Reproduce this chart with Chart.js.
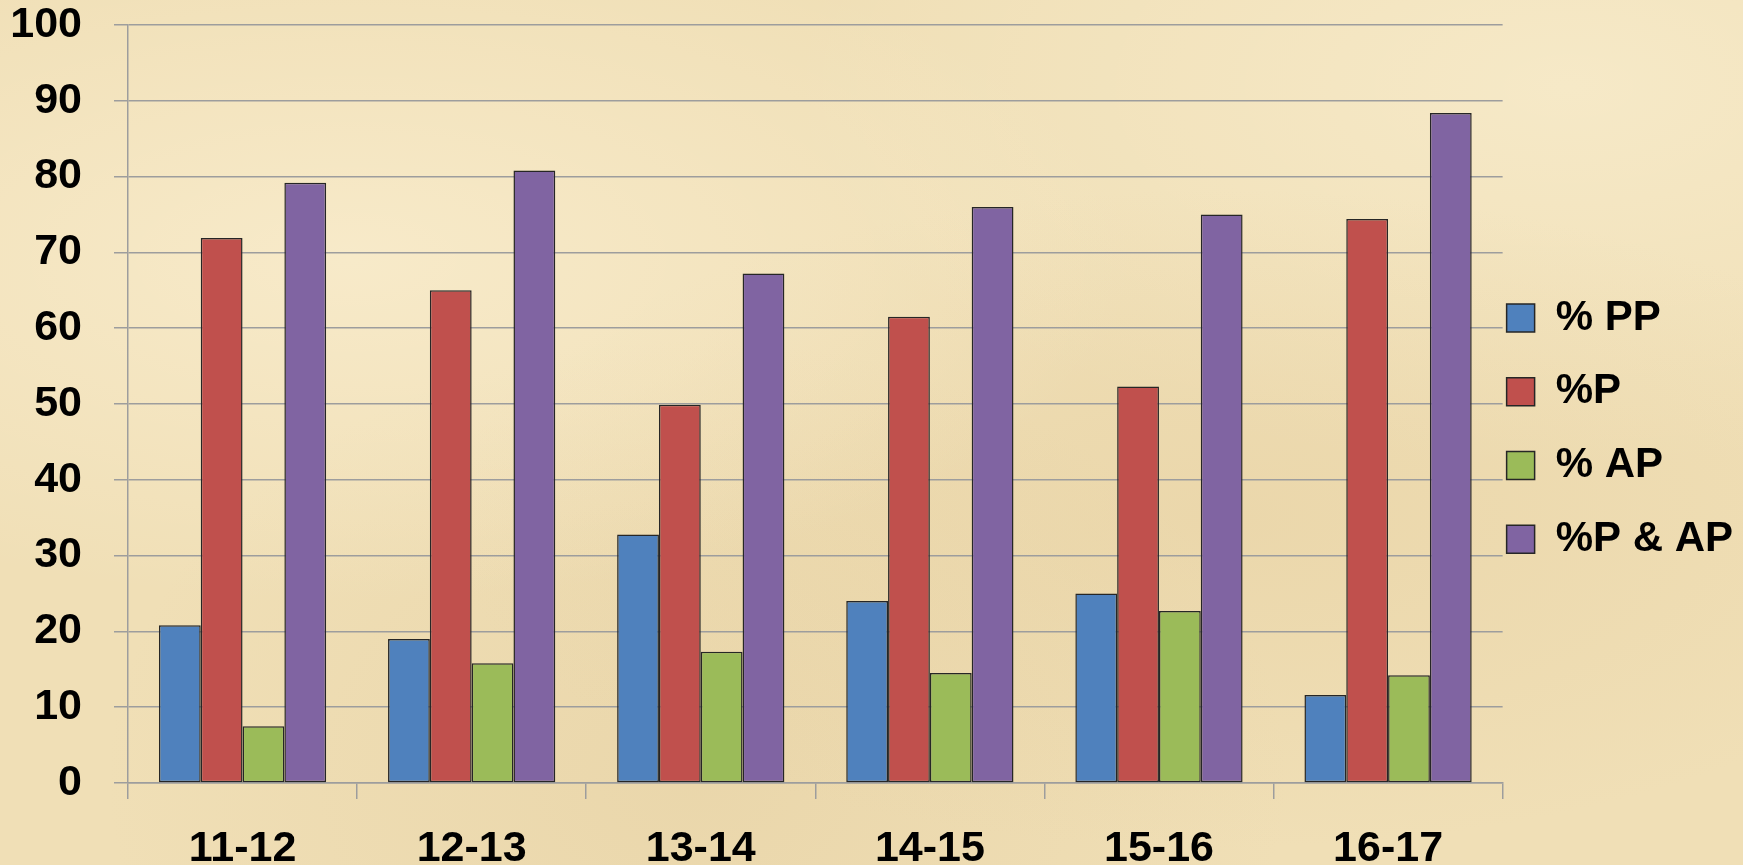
<!DOCTYPE html>
<html>
<head>
<meta charset="utf-8">
<script src="https://cdn.jsdelivr.net/npm/chart.js@4"></script>
<style>
  html, body { margin: 0; padding: 0; }
  body {
    width: 1743px; height: 865px; overflow: hidden;
    background-color: #f0dfb6;
    background-image:
      radial-gradient(ellipse at 20% 30%, rgba(255,245,220,0.5), rgba(255,245,220,0) 40%),
      radial-gradient(ellipse at 70% 60%, rgba(225,200,150,0.35), rgba(225,200,150,0) 45%),
      radial-gradient(ellipse at 90% 10%, rgba(255,248,225,0.4), rgba(255,248,225,0) 35%),
      radial-gradient(ellipse at 40% 90%, rgba(220,195,145,0.3), rgba(220,195,145,0) 40%);
  }
  #wrap { position: absolute; left: 0; top: 0; width: 1743px; height: 865px; }
</style>
</head>
<body>
<div id="wrap"><canvas id="myChart"></canvas></div>
<script>
const years = ['11-12', '12-13', '13-14', '14-15', '15-16', '16-17']
const pctPP = [20.8, 19.0, 32.8, 24.0, 25.0, 11.6]
const pctP = [71.9, 65.0, 49.9, 61.5, 52.3, 74.4]
const pctAP = [7.5, 15.8, 17.3, 14.5, 22.7, 14.2]
const pctPandAP = [79.2, 80.8, 67.2, 76.0, 75.0, 88.4]
const yTicks = [0, 10, 20, 30, 40, 50, 60, 70, 80, 90, 100]

const gridGray = '#9d9d9d'
const font = { family: "'Liberation Sans', Arial, sans-serif", weight: 'bold', size: 43 }

const ctx = document.getElementById('myChart');
new Chart(ctx, {
  type: 'bar',
  data: {
    labels: years,
    datasets: [
      { label: '% PP', data: pctPP, backgroundColor: '#4f81bd' },
      { label: '%P', data: pctP, backgroundColor: '#c0504d' },
      { label: '% AP', data: pctAP, backgroundColor: '#9bbb59' },
      { label: '%P & AP', data: pctPandAP, backgroundColor: '#8064a2' }
    ]
  },
  options: {
    responsive: true,
    maintainAspectRatio: false,
    animation: false,
    datasets: {
      bar: {
        borderColor: '#262626',
        borderWidth: 1.5,
        borderSkipped: false,
        barPercentage: 1,
        categoryPercentage: 0.73
      }
    },
    layout: { padding: 0 },
    plugins: {
      tooltip: { enabled: false },
      legend: {
        position: 'right',
        // empty title only to push the items down a bit
        title: { display: true, text: ' ', font: { size: 10 }, padding: 4 },
        labels: {
          color: '#000',
          font: { family: font.family, weight: 'bold', size: 42, lineHeight: 1.66 },
          boxWidth: 28,
          boxHeight: 28,
          padding: 4,
          // text as an array so the row height follows the font lineHeight
          generateLabels: (chart) => Chart.defaults.plugins.legend.labels.generateLabels(chart)
            .map(l => Object.assign(l, { text: [l.text], strokeStyle: '#262626', lineWidth: 1.5 }))
        }
      }
    },
    scales: {
      x: {
        afterFit: (axis) => { axis.height = 82 },
        grid: {
          display: true,
          drawOnChartArea: false,
          drawTicks: true,
          tickLength: 16,
          color: gridGray,
          lineWidth: 1.5
        },
        border: { display: true, color: gridGray, width: 1.5 },
        ticks: { color: '#000', font: font, padding: 24, maxRotation: 0 }
      },
      y: {
        min: 0,
        max: 100,
        afterFit: (axis) => {
          axis.width = 128
          axis.paddingTop = 25
          axis.paddingBottom = 25
        },
        afterBuildTicks: (axis) => { axis.ticks = yTicks.map(v => ({ value: v })) },
        grid: { color: gridGray, lineWidth: 1.5, tickLength: 14 },
        border: { display: true, color: gridGray, width: 1.5 },
        ticks: { color: '#000', font: font, padding: 32 }
      }
    }
  }
});
</script>
</body>
</html>
